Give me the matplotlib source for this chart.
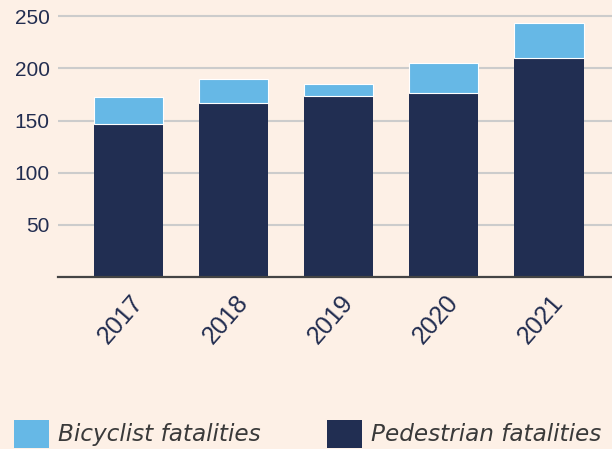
import matplotlib.pyplot as plt
import matplotlib.transforms as mtransforms

years = ['2017', '2018', '2019', '2020', '2021']
pedestrian = [147, 167, 174, 176, 210]
bicyclist = [26, 23, 11, 29, 34]

bg = '#fdf0e6'
navy = '#212e52'
light = '#66b8e6'
label_col = '#222d50'

fig = plt.figure(figsize=(6.12, 4.49), dpi=100, facecolor=bg)
ax = fig.add_axes([0.0948, 0.384, 0.9052, 0.584], facecolor=bg)

x = range(len(years))
ax.bar(x, pedestrian, width=0.66, color=navy, zorder=3, label='Pedestrian fatalities')
ax.bar(x, bicyclist, bottom=pedestrian, width=0.66, color=light, edgecolor='white',
       linewidth=0.8, zorder=3, label='Bicyclist fatalities')

ax.set_xlim(-0.67, 4.6)
ax.set_ylim(0, 252)
ax.set_yticks([50, 100, 150, 200, 250])
ax.yaxis.grid(True, color='#cccccc', linewidth=1.5, zorder=0)
ax.set_xticks(list(x))
ax.set_xticklabels(years, rotation=49, ha='center', va='top')
ax.tick_params(axis='both', length=0, labelsize=15, labelcolor=label_col)
ax.tick_params(axis='x', pad=10, labelsize=18)
ax.tick_params(axis='y', pad=6)
for lbl in ax.get_xticklabels() + ax.get_yticklabels():
    lbl.set_fontfamily('Liberation Sans')
# nudge the rotated year labels slightly left
shift = mtransforms.ScaledTranslation(-8 / 100, 0, fig.dpi_scale_trans)
for lbl in ax.get_xticklabels():
    lbl.set_transform(lbl.get_transform() + shift)

for side in ['top', 'right', 'left']:
    ax.spines[side].set_visible(False)
ax.spines['bottom'].set_color('#444444')
ax.spines['bottom'].set_linewidth(1.6)
ax.spines['bottom'].set_zorder(4)

handles, labels = ax.get_legend_handles_labels()
leg = fig.legend(handles[::-1], labels[::-1], loc='lower left', ncol=2,
                 bbox_to_anchor=(14 / 612, 1 / 449), frameon=False,
                 borderpad=0, borderaxespad=0, handlelength=1.51, handleheight=1.51,
                 handletextpad=0.39, columnspacing=2.85,
                 prop={'family': 'DejaVu Sans', 'style': 'oblique', 'size': 16.7})
for t in leg.get_texts():
    t.set_color('#3a3a3a')
for h in leg.legend_handles:
    h.set_edgecolor('none')

fig.savefig('out.png', dpi=100, facecolor=bg)
